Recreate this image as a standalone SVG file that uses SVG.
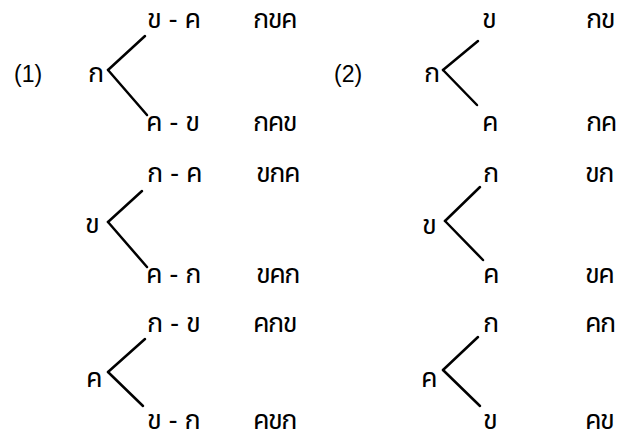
<svg xmlns="http://www.w3.org/2000/svg" width="620" height="441" viewBox="0 0 620 441">
<style>
.t{font-family:"Noto Sans Thai","DejaVu Sans","Noto Sans",sans-serif;font-size:27px;fill:#000}
.r{letter-spacing:-1.5px}
.n{font-family:"Liberation Sans",Arial,sans-serif;font-size:23px;fill:#000}
.c line{stroke:#000;stroke-width:2.5;stroke-linecap:round}
</style>
<rect width="620" height="441" fill="#fff"/>
<g id="label1"><text class="n" x="14" y="82">(1)</text></g>
<g id="label2"><text class="n" x="334" y="82">(2)</text></g>
<g id="a1"><text class="t" x="88" y="82">ก</text></g>
<g id="a1u"><text class="t" x="147" y="28">ข - ค</text><text class="t r" x="253" y="28">กขค</text></g>
<g id="a1l"><text class="t" x="146" y="131">ค - ข</text><text class="t r" x="253" y="131">กคข</text></g>
<g id="b1"><text class="t" x="85" y="233">ข</text></g>
<g id="b1u"><text class="t" x="147" y="182">ก - ค</text><text class="t r" x="256" y="182">ขกค</text></g>
<g id="b1l"><text class="t" x="146" y="283">ค - ก</text><text class="t r" x="256" y="283">ขคก</text></g>
<g id="c1"><text class="t" x="86" y="387">ค</text></g>
<g id="c1u"><text class="t" x="147" y="332">ก - ข</text><text class="t r" x="253" y="332">คกข</text></g>
<g id="c1l"><text class="t" x="147" y="429">ข - ก</text><text class="t r" x="253" y="429">คขก</text></g>
<g id="a2"><text class="t" x="424" y="82">ก</text></g>
<g id="a2u"><text class="t" x="482" y="28">ข</text><text class="t r" x="586" y="28">กข</text></g>
<g id="a2l"><text class="t" x="482" y="131">ค</text><text class="t r" x="586" y="131">กค</text></g>
<g id="b2"><text class="t" x="422" y="234">ข</text></g>
<g id="b2u"><text class="t" x="483" y="182">ก</text><text class="t r" x="585" y="182">ขก</text></g>
<g id="b2l"><text class="t" x="483" y="283">ค</text><text class="t r" x="585" y="283">ขค</text></g>
<g id="c2"><text class="t" x="421" y="387">ค</text></g>
<g id="c2u"><text class="t" x="483" y="332">ก</text><text class="t r" x="585" y="332">คก</text></g>
<g id="c2l"><text class="t" x="483" y="429">ข</text><text class="t r" x="585" y="429">คข</text></g>
<g id="connectors" class="c">
<line x1="108" y1="70" x2="145" y2="36"/><line x1="108" y1="70" x2="147" y2="115"/>
<line x1="443" y1="70" x2="478" y2="41"/><line x1="443" y1="70" x2="477" y2="105"/>
<line x1="108" y1="222" x2="142" y2="191"/><line x1="108" y1="222" x2="147" y2="267"/>
<line x1="445" y1="221" x2="480" y2="187"/><line x1="445" y1="221" x2="483" y2="260"/>
<line x1="108" y1="372" x2="145" y2="339"/><line x1="108" y1="372" x2="143" y2="406"/>
<line x1="443" y1="370" x2="478" y2="337"/><line x1="443" y1="370" x2="480" y2="406"/>
</g>
</svg>
